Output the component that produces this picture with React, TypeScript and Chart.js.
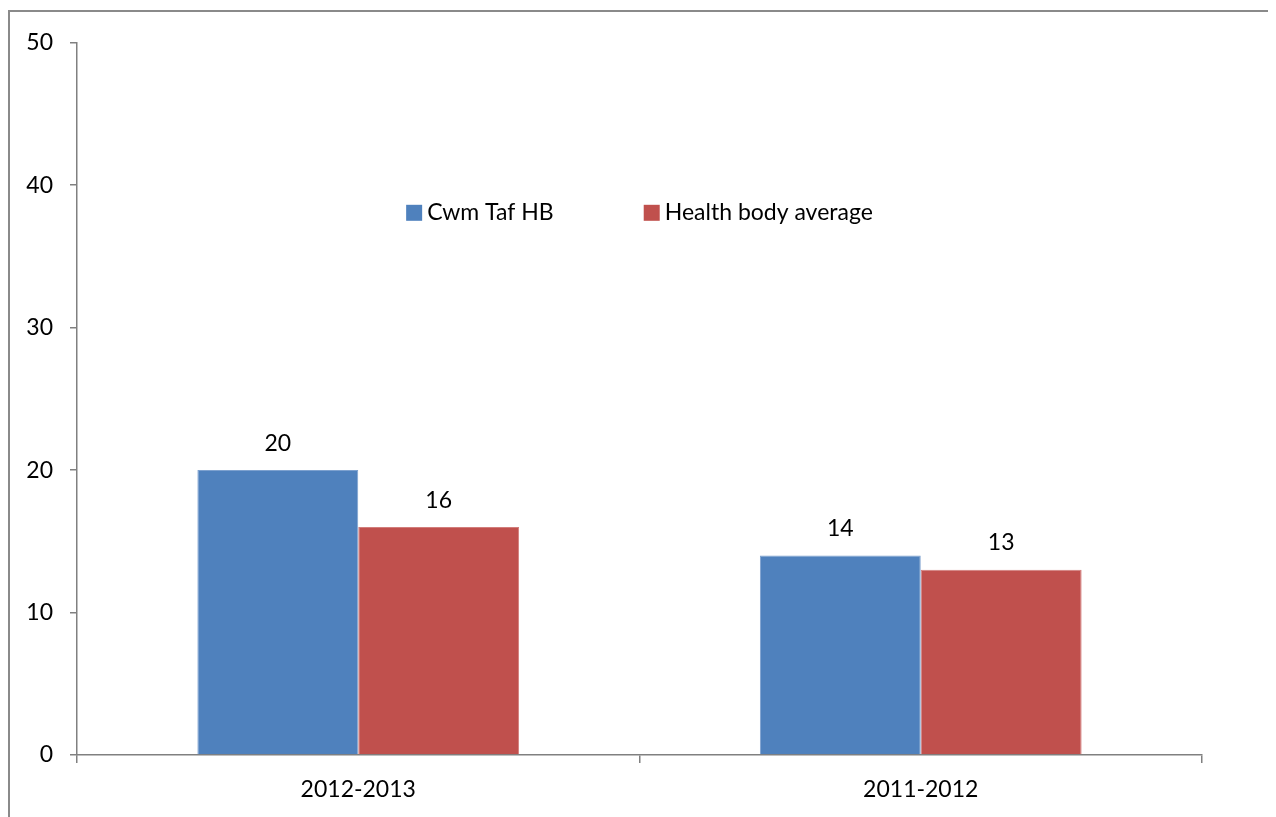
import React, { useEffect, useRef } from "react";
import { Chart, registerables } from "chart.js";

Chart.register(...registerables);

const categories = ["2012-2013", "2011-2012"];
const cwmTafValues = [20, 14];
const healthBodyValues = [16, 13];
const seriesNames = ["Cwm Taf HB", "Health body average"];
const seriesColors = ["#4F81BD", "#C0504D"];
const seriesBorders = ["#7DA1CF", "#D27D7B"];
const yTicks = [0, 10, 20, 30, 40, 50];

const FONT = "Lato, 'Open Sans', sans-serif";
const FONT_SIZE = 23;

const valueLabelPlugin = {
  id: "valueLabels",
  afterDatasetsDraw(chart: any) {
    const ctx = chart.ctx;
    ctx.save();
    ctx.font = `${FONT_SIZE}px ${FONT}`;
    ctx.fillStyle = "#000";
    ctx.textAlign = "center";
    ctx.textBaseline = "middle";
    chart.data.datasets.forEach((ds: any, i: number) => {
      const meta = chart.getDatasetMeta(i);
      meta.data.forEach((bar: any, j: number) => {
        ctx.fillText(String(ds.data[j]), bar.x, bar.y - 27);
      });
    });
    ctx.restore();
  },
};

const insideLegendPlugin = {
  id: "insideLegend",
  afterDraw(chart: any) {
    const ctx = chart.ctx;
    const area = chart.chartArea;
    ctx.save();
    ctx.font = `${FONT_SIZE}px ${FONT}`;
    const box = 16;
    const gapBoxText = 5;
    const gapItems = 90;
    const items = chart.data.datasets.map((ds: any) => ({
      label: ds.label,
      color: ds.backgroundColor,
      w: box + gapBoxText + ctx.measureText(ds.label).width,
    }));
    const total = items.reduce((s: number, it: any) => s + it.w, 0) + gapItems * (items.length - 1);
    let x = (area.left + area.right) / 2 - total / 2;
    const cy = area.top + 170;
    items.forEach((it: any) => {
      ctx.fillStyle = it.color;
      ctx.fillRect(x, cy - box / 2, box, box);
      ctx.fillStyle = "#000";
      ctx.textAlign = "left";
      ctx.textBaseline = "middle";
      ctx.fillText(it.label, x + box + gapBoxText, cy);
      x += it.w + gapItems;
    });
    ctx.restore();
  },
};

export default function App() {
  const canvasRef = useRef<HTMLCanvasElement | null>(null);

  useEffect(() => {
    if (!canvasRef.current) return;
    const chart = new Chart(canvasRef.current, {
      type: "bar",
      data: {
        labels: categories,
        datasets: [
          {
            label: seriesNames[0],
            data: cwmTafValues,
            backgroundColor: seriesColors[0],
            borderColor: seriesBorders[0],
            borderWidth: 1,
          },
          {
            label: seriesNames[1],
            data: healthBodyValues,
            backgroundColor: seriesColors[1],
            borderColor: seriesBorders[1],
            borderWidth: 1,
          },
        ],
      },
      options: {
        animation: false,
        responsive: false,
        maintainAspectRatio: false,
        datasets: {
          bar: {
            barPercentage: 1,
            categoryPercentage: 0.572,
          },
        },
        layout: { padding: { top: 29, right: 70, left: 0, bottom: 0 } },
        plugins: {
          legend: { display: false },
          tooltip: { enabled: false },
        },
        scales: {
          x: {
            grid: {
              display: true,
              drawOnChartArea: false,
              drawTicks: true,
              tickLength: 8,
              color: "#808080",
              lineWidth: 1.5,
              offset: true,
            },
            border: { display: true, color: "#808080", width: 1.5 },
            ticks: {
              color: "#000",
              font: { family: FONT, size: FONT_SIZE },
              padding: 13,
            },
            afterFit(scale: any) {
              scale.height = 73;
            },
          },
          y: {
            min: 0,
            max: 50,
            afterBuildTicks(scale: any) {
              scale.ticks = yTicks.map((v) => ({ value: v }));
            },
            grid: {
              display: true,
              drawOnChartArea: false,
              drawTicks: true,
              tickLength: 7,
              color: "#808080",
              lineWidth: 1.5,
            },
            border: { display: true, color: "#808080", width: 1.5 },
            ticks: {
              color: "#000",
              font: { family: FONT, size: FONT_SIZE },
              padding: 17,
            },
            afterFit(scale: any) {
              scale.width = 67;
            },
          },
        },
      },
      plugins: [valueLabelPlugin, insideLegendPlugin],
    });
    return () => chart.destroy();
  }, []);

  return (
    <div
      style={{
        marginTop: 2,
        width: 1266,
        height: 820,
        boxSizing: "border-box",
        border: "2px solid #8a8a8a",
        background: "#fff",
      }}
    >
      <canvas ref={canvasRef} width={1262} height={816} style={{ display: "block" }} />
    </div>
  );
}
